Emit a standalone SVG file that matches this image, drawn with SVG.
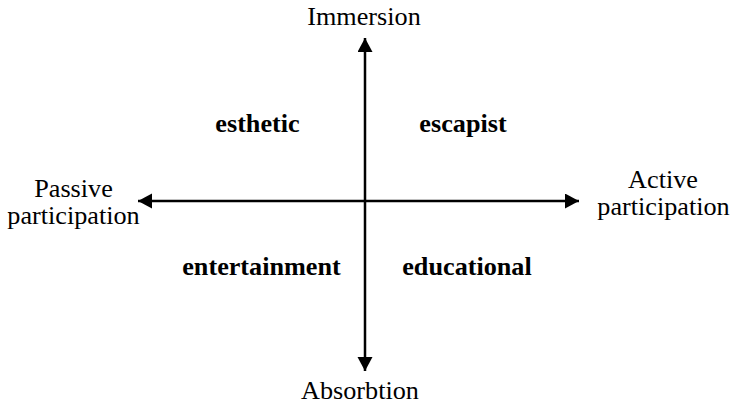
<svg xmlns="http://www.w3.org/2000/svg" width="732" height="408" viewBox="0 0 732 408">
<style>
svg text.t{font-family:"Liberation Serif",serif;font-size:26.2px;fill:#000;text-anchor:middle}
svg text.b{font-weight:bold}
.ax{stroke:#000;stroke-width:2.5;fill:none}
</style>
<defs>
<marker id="ah" markerUnits="userSpaceOnUse" markerWidth="15" markerHeight="16" refX="14" refY="7.5" orient="auto-start-reverse">
<path d="M0,0 L14,7.5 L0,15 z" fill="#000"/>
</marker>
</defs>
<rect width="732" height="408" fill="#fff"/>
<g id="connectors">
<line class="ax" x1="365" y1="371" x2="365" y2="38" marker-start="url(#ah)" marker-end="url(#ah)"/>
<line class="ax" x1="138" y1="201" x2="579" y2="201" marker-start="url(#ah)" marker-end="url(#ah)"/>
</g>
<g id="immersion"><text class="t" x="364" y="25">Immersion</text></g>
<g id="absorbtion"><text class="t" x="360" y="399">Absorbtion</text></g>
<g id="passive"><text class="t" x="73.5" y="197">Passive</text><text class="t" x="73.5" y="224">participation</text></g>
<g id="active"><text class="t" x="663" y="188">Active</text><text class="t" x="663.5" y="215">participation</text></g>
<g id="esthetic"><text class="t b" x="257.5" y="132">esthetic</text></g>
<g id="escapist"><text class="t b" x="463" y="132">escapist</text></g>
<g id="entertainment"><text class="t b" x="261.5" y="275">entertainment</text></g>
<g id="educational"><text class="t b" x="467" y="275">educational</text></g>
</svg>
